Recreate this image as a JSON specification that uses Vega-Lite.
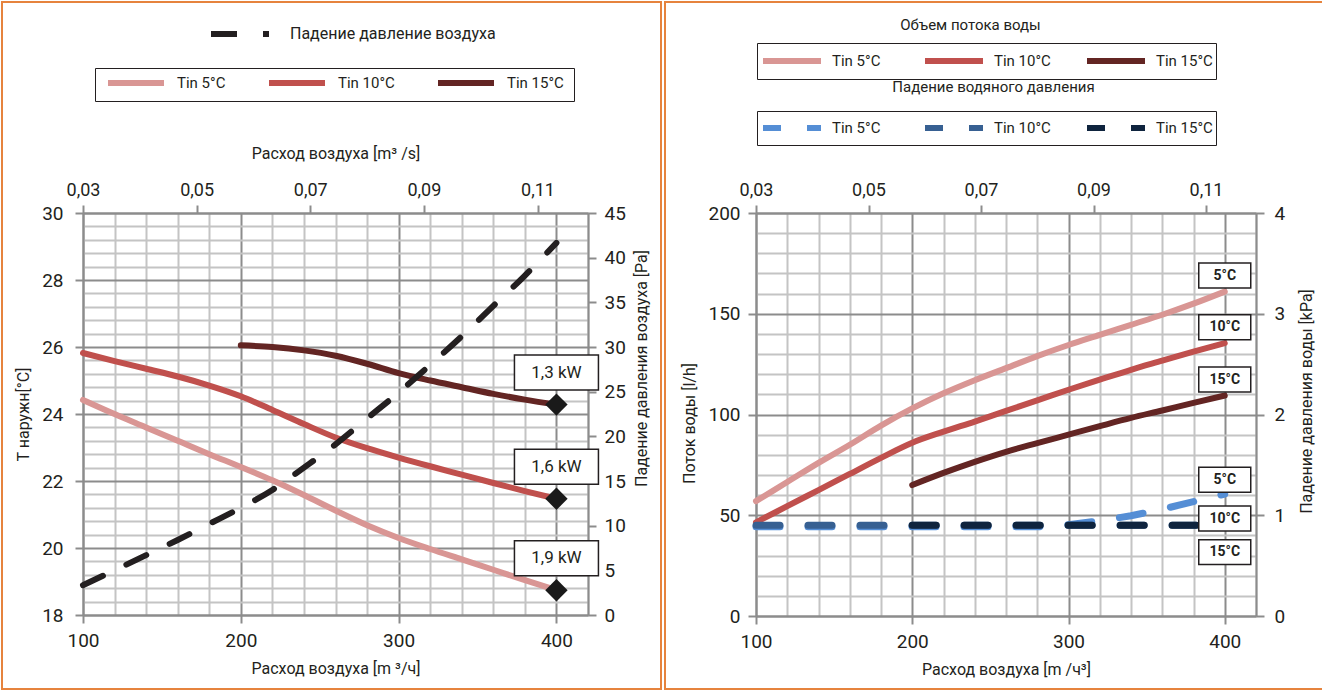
{
  "$schema": "https://vega.github.io/schema/vega-lite/v6.json",
  "padding": {"left": 1, "top": 1, "right": 0, "bottom": 0},
  "spacing": 2,
  "datasets": {
    "tair": [
      {"q": 100, "s": "Tin 5°C", "t": 24.42}, {"q": 120, "s": "Tin 5°C", "t": 24.0}, {"q": 140, "s": "Tin 5°C", "t": 23.6}, {"q": 160, "s": "Tin 5°C", "t": 23.2},
      {"q": 180, "s": "Tin 5°C", "t": 22.8}, {"q": 200, "s": "Tin 5°C", "t": 22.42}, {"q": 220, "s": "Tin 5°C", "t": 22.02}, {"q": 240, "s": "Tin 5°C", "t": 21.58},
      {"q": 260, "s": "Tin 5°C", "t": 21.12}, {"q": 280, "s": "Tin 5°C", "t": 20.68}, {"q": 300, "s": "Tin 5°C", "t": 20.3}, {"q": 320, "s": "Tin 5°C", "t": 19.97},
      {"q": 340, "s": "Tin 5°C", "t": 19.66}, {"q": 360, "s": "Tin 5°C", "t": 19.35}, {"q": 380, "s": "Tin 5°C", "t": 19.04}, {"q": 400, "s": "Tin 5°C", "t": 18.74},
      {"q": 100, "s": "Tin 10°C", "t": 25.82}, {"q": 120, "s": "Tin 10°C", "t": 25.58}, {"q": 140, "s": "Tin 10°C", "t": 25.35}, {"q": 160, "s": "Tin 10°C", "t": 25.12},
      {"q": 180, "s": "Tin 10°C", "t": 24.85}, {"q": 200, "s": "Tin 10°C", "t": 24.53}, {"q": 220, "s": "Tin 10°C", "t": 24.12}, {"q": 240, "s": "Tin 10°C", "t": 23.7},
      {"q": 260, "s": "Tin 10°C", "t": 23.3}, {"q": 280, "s": "Tin 10°C", "t": 22.98}, {"q": 300, "s": "Tin 10°C", "t": 22.7}, {"q": 320, "s": "Tin 10°C", "t": 22.44},
      {"q": 340, "s": "Tin 10°C", "t": 22.19}, {"q": 360, "s": "Tin 10°C", "t": 21.94}, {"q": 380, "s": "Tin 10°C", "t": 21.7}, {"q": 400, "s": "Tin 10°C", "t": 21.47},
      {"q": 200, "s": "Tin 15°C", "t": 26.05}, {"q": 220, "s": "Tin 15°C", "t": 26.0}, {"q": 240, "s": "Tin 15°C", "t": 25.9}, {"q": 260, "s": "Tin 15°C", "t": 25.74},
      {"q": 280, "s": "Tin 15°C", "t": 25.5}, {"q": 300, "s": "Tin 15°C", "t": 25.22}, {"q": 320, "s": "Tin 15°C", "t": 25.0}, {"q": 340, "s": "Tin 15°C", "t": 24.8},
      {"q": 360, "s": "Tin 15°C", "t": 24.6}, {"q": 380, "s": "Tin 15°C", "t": 24.43}, {"q": 400, "s": "Tin 15°C", "t": 24.28}
    ],
    "pair": [
      {"q": 100, "s": "Падение давление воздуха", "p": 3.34}, {"q": 120, "s": "Падение давление воздуха", "p": 5.0}, {"q": 140, "s": "Падение давление воздуха", "p": 6.7},
      {"q": 160, "s": "Падение давление воздуха", "p": 8.4}, {"q": 180, "s": "Падение давление воздуха", "p": 10.2}, {"q": 200, "s": "Падение давление воздуха", "p": 12.0},
      {"q": 220, "s": "Падение давление воздуха", "p": 14.0}, {"q": 240, "s": "Падение давление воздуха", "p": 16.5}, {"q": 260, "s": "Падение давление воздуха", "p": 19.1},
      {"q": 280, "s": "Падение давление воздуха", "p": 22.0}, {"q": 300, "s": "Падение давление воздуха", "p": 24.9}, {"q": 320, "s": "Падение давление воздуха", "p": 28.0},
      {"q": 340, "s": "Падение давление воздуха", "p": 31.2}, {"q": 360, "s": "Падение давление воздуха", "p": 34.6}, {"q": 380, "s": "Падение давление воздуха", "p": 38.0},
      {"q": 400, "s": "Падение давление воздуха", "p": 41.66}
    ],
    "tlab": [
      {"q": 400, "t": 24.28, "label": "1,3 kW"},
      {"q": 400, "t": 21.47, "label": "1,6 kW"},
      {"q": 400, "t": 18.74, "label": "1,9 kW"}
    ],
    "flow": [
      {"q": 100, "s": "Tin 5°C", "v": 57}, {"q": 120, "s": "Tin 5°C", "v": 66.5}, {"q": 140, "s": "Tin 5°C", "v": 76}, {"q": 160, "s": "Tin 5°C", "v": 85},
      {"q": 180, "s": "Tin 5°C", "v": 94.5}, {"q": 200, "s": "Tin 5°C", "v": 103}, {"q": 220, "s": "Tin 5°C", "v": 110.5}, {"q": 240, "s": "Tin 5°C", "v": 117},
      {"q": 260, "s": "Tin 5°C", "v": 123}, {"q": 280, "s": "Tin 5°C", "v": 129}, {"q": 300, "s": "Tin 5°C", "v": 134.5}, {"q": 320, "s": "Tin 5°C", "v": 139.5},
      {"q": 340, "s": "Tin 5°C", "v": 144.5}, {"q": 360, "s": "Tin 5°C", "v": 149.5}, {"q": 380, "s": "Tin 5°C", "v": 155}, {"q": 400, "s": "Tin 5°C", "v": 161},
      {"q": 100, "s": "Tin 10°C", "v": 46.5}, {"q": 120, "s": "Tin 10°C", "v": 54.5}, {"q": 140, "s": "Tin 10°C", "v": 62.5}, {"q": 160, "s": "Tin 10°C", "v": 70.5},
      {"q": 180, "s": "Tin 10°C", "v": 78.5}, {"q": 200, "s": "Tin 10°C", "v": 86}, {"q": 220, "s": "Tin 10°C", "v": 91.5}, {"q": 240, "s": "Tin 10°C", "v": 96.5},
      {"q": 260, "s": "Tin 10°C", "v": 101.8}, {"q": 280, "s": "Tin 10°C", "v": 107}, {"q": 300, "s": "Tin 10°C", "v": 112.3}, {"q": 320, "s": "Tin 10°C", "v": 117.3},
      {"q": 340, "s": "Tin 10°C", "v": 122.2}, {"q": 360, "s": "Tin 10°C", "v": 126.7}, {"q": 380, "s": "Tin 10°C", "v": 131.2}, {"q": 400, "s": "Tin 10°C", "v": 135.4},
      {"q": 200, "s": "Tin 15°C", "v": 65}, {"q": 220, "s": "Tin 15°C", "v": 71}, {"q": 240, "s": "Tin 15°C", "v": 76.5}, {"q": 260, "s": "Tin 15°C", "v": 81.5},
      {"q": 280, "s": "Tin 15°C", "v": 85.8}, {"q": 300, "s": "Tin 15°C", "v": 90}, {"q": 320, "s": "Tin 15°C", "v": 94.2}, {"q": 340, "s": "Tin 15°C", "v": 98.3},
      {"q": 360, "s": "Tin 15°C", "v": 102}, {"q": 380, "s": "Tin 15°C", "v": 105.8}, {"q": 400, "s": "Tin 15°C", "v": 109.4}
    ],
    "wp": [
      {"q": 100, "s": "Tin 5°C", "k": 0.885}, {"q": 200, "s": "Tin 5°C", "k": 0.885}, {"q": 280, "s": "Tin 5°C", "k": 0.885}, {"q": 300, "s": "Tin 5°C", "k": 0.905},
      {"q": 320, "s": "Tin 5°C", "k": 0.945}, {"q": 340, "s": "Tin 5°C", "k": 0.995}, {"q": 360, "s": "Tin 5°C", "k": 1.06}, {"q": 380, "s": "Tin 5°C", "k": 1.135}, {"q": 400, "s": "Tin 5°C", "k": 1.21},
      {"q": 100, "s": "Tin 10°C", "k": 0.9}, {"q": 200, "s": "Tin 10°C", "k": 0.9}, {"q": 300, "s": "Tin 10°C", "k": 0.9}, {"q": 400, "s": "Tin 10°C", "k": 0.9},
      {"q": 200, "s": "Tin 15°C", "k": 0.9}, {"q": 300, "s": "Tin 15°C", "k": 0.9}, {"q": 400, "s": "Tin 15°C", "k": 0.9}
    ],
    "flab": [
      {"q": 400, "v": 161, "label": "5°C"},
      {"q": 400, "v": 135.4, "label": "10°C"},
      {"q": 400, "v": 109.4, "label": "15°C"}
    ],
    "wlab": [
      {"q": 400, "k": 1.353, "label": "5°C"},
      {"q": 400, "k": 0.967, "label": "10°C"},
      {"q": 400, "k": 0.634, "label": "15°C"}
    ]
  },
  "hconcat": [
    {
      "width": 659,
      "height": 687,
      "resolve": {
        "scale": {"y": "independent", "color": "independent"},
        "axis": {"x": "independent", "y": "independent"},
        "legend": {"color": "independent"}
      },
      "layer": [
        {
          "resolve": {"axis": {"x": "independent", "y": "independent"}},
          "layer": [
            {
              "data": {"name": "tair"},
              "mark": {"type": "line", "strokeWidth": 6, "strokeCap": "round", "interpolate": "monotone"},
              "encoding": {
                "x": {"field": "q", "type": "quantitative", "scale": {"domain": [100, 420], "range": [81, 586], "nice": false, "zero": false},
                  "axis": {"orient": "top", "offset": -211, "values": [120, 140, 160, 180, 220, 240, 260, 280, 320, 340, 360, 380, 420], "grid": true, "gridColor": "#c4c4c4", "gridWidth": 2, "domain": false, "ticks": false, "labels": false, "title": null}},
                "y": {"field": "t", "type": "quantitative", "scale": {"domain": [18, 30], "range": [613, 211], "nice": false, "zero": false},
                  "axis": {"orient": "left", "offset": -81, "values": [18.4, 18.8, 19.2, 19.6, 20.4, 20.8, 21.2, 21.6, 22.4, 22.8, 23.2, 23.6, 24.4, 24.8, 25.2, 25.6, 26.4, 26.8, 27.2, 27.6, 28.4, 28.8, 29.2, 29.6], "grid": true, "gridColor": "#c4c4c4", "gridWidth": 2, "domain": false, "ticks": false, "labels": false, "title": null}},
                "color": {"field": "s", "type": "nominal",
                  "scale": {"domain": ["Tin 5°C", "Tin 10°C", "Tin 15°C"], "range": ["#d99694", "#c0504d", "#632523"]},
                  "legend": {"orient": "none", "legendX": 93, "legendY": 66, "direction": "horizontal", "title": null, "symbolType": "stroke", "symbolSize": 3136, "symbolStrokeWidth": 6, "clipHeight": 10, "padding": 10, "strokeColor": "#231f20", "labelFontSize": 15, "labelOffset": 10, "columnPadding": 40, "labelColor": "#231f20"}}
              }
            },
            {
              "data": {"name": "tlab"},
              "mark": {"type": "point", "shape": "diamond", "filled": true, "size": 500, "color": "#1a1a1a", "opacity": 1},
              "encoding": {
                "x": {"field": "q", "type": "quantitative", "scale": {"domain": [100, 420], "range": [81, 586], "nice": false, "zero": false},
                  "axis": {"orient": "top", "offset": -211, "values": [100, 200, 300, 400], "grid": true, "gridColor": "#8c8c8c", "gridWidth": 2, "domain": false, "ticks": false, "labels": false, "title": null}},
                "y": {"field": "t", "type": "quantitative", "scale": {"domain": [18, 30], "range": [613, 211], "nice": false, "zero": false},
                  "axis": {"orient": "left", "offset": -81, "values": [18, 20, 22, 24, 26, 28, 30], "grid": true, "gridColor": "#8c8c8c", "gridWidth": 2, "tickSize": 8, "labelPadding": 12, "title": "T наружн[°C]", "titlePadding": 10}}
              }
            },
            {
              "data": {"name": "tlab"},
              "mark": {"type": "point", "shape": "M-1.2,-0.5H1.2V0.5H-1.2Z", "size": 4900, "filled": true, "fill": "#ffffff", "stroke": "#231f20", "strokeWidth": 1.5, "opacity": 1, "yOffset": -32},
              "encoding": {
                "x": {"field": "q", "type": "quantitative", "scale": {"domain": [100, 420], "range": [81, 586], "nice": false, "zero": false},
                  "axis": {"orient": "bottom", "offset": -74, "values": [100, 200, 300, 400], "grid": false, "tickSize": 8, "labelPadding": 8, "labelFlush": false, "title": "Расход воздуха [m ³/ч]", "titlePadding": 10}},
                "y": {"field": "t", "type": "quantitative", "scale": {"domain": [18, 30], "range": [613, 211], "nice": false, "zero": false}, "axis": null}
              }
            },
            {
              "data": {"name": "tlab"},
              "mark": {"type": "text", "yOffset": -32, "fontSize": 17, "color": "#231f20", "align": "center", "baseline": "middle"},
              "encoding": {
                "x": {"field": "q", "type": "quantitative", "scale": {"domain": [100, 420], "range": [81, 586], "nice": false, "zero": false}, "axis": null},
                "y": {"field": "t", "type": "quantitative", "scale": {"domain": [18, 30], "range": [613, 211], "nice": false, "zero": false}, "axis": null},
                "text": {"field": "label"}
              }
            }
          ]
        },
        {
          "data": {"name": "pair"},
          "mark": {"type": "line", "strokeWidth": 6, "strokeCap": "round", "strokeDash": [22, 26], "interpolate": "monotone"},
          "encoding": {
            "x": {"field": "q", "type": "quantitative", "scale": {"domain": [100, 420], "range": [81, 586], "nice": false, "zero": false},
              "axis": {"orient": "top", "offset": -211, "values": [100, 172, 244, 316, 388], "labelExpr": "replace(format(0.03 + (datum.value - 100) / 3600, '.2f'), '.', ',')", "grid": false, "tickSize": 8, "labelPadding": 6, "labelFontSize": 18, "labelFlush": false, "title": "Расход воздуха [m³ /s]", "titlePadding": 20}},
            "y": {"field": "p", "type": "quantitative", "scale": {"domain": [0, 45], "range": [613, 211], "nice": false, "zero": false},
              "axis": {"orient": "right", "offset": -73, "values": [0, 5, 10, 15, 20, 25, 30, 35, 40, 45], "grid": false, "tickSize": 8, "labelPadding": 8, "labelFlush": false, "title": "Падение давления воздуха [Pa]", "titleAngle": 270, "titleBaseline": "top", "titleY": 366, "titlePadding": 8}},
            "color": {"field": "s", "type": "nominal",
              "scale": {"domain": ["Падение давление воздуха"], "range": ["#231f20"]},
              "legend": {"orient": "none", "legendX": 206, "legendY": 24, "title": null, "symbolType": "stroke", "symbolSize": 3364, "symbolStrokeWidth": 6, "symbolDash": [26, 26], "clipHeight": 16, "padding": 0, "labelFontSize": 16, "labelOffset": 18, "labelLimit": 400, "labelColor": "#231f20"}}
          }
        }
      ]
    },
    {
      "width": 658,
      "height": 687,
      "resolve": {
        "scale": {"y": "independent", "color": "independent"},
        "axis": {"x": "independent", "y": "independent"},
        "legend": {"color": "independent"}
      },
      "layer": [
        {
          "resolve": {"axis": {"x": "independent", "y": "independent"}},
          "layer": [
            {
              "data": {"name": "flow"},
              "mark": {"type": "line", "strokeWidth": 6, "strokeCap": "round", "interpolate": "monotone"},
              "encoding": {
                "x": {"field": "q", "type": "quantitative", "scale": {"domain": [100, 420], "range": [91, 591], "nice": false, "zero": false},
                  "axis": {"orient": "top", "offset": -211, "values": [120, 140, 160, 180, 220, 240, 260, 280, 320, 340, 360, 380, 420], "grid": true, "gridColor": "#c4c4c4", "gridWidth": 2, "domain": false, "ticks": false, "labels": false, "title": null}},
                "y": {"field": "v", "type": "quantitative", "scale": {"domain": [0, 200], "range": [614, 211], "nice": false, "zero": false},
                  "axis": {"orient": "left", "offset": -91, "values": [10, 20, 30, 40, 60, 70, 80, 90, 110, 120, 130, 140, 160, 170, 180, 190], "grid": true, "gridColor": "#c4c4c4", "gridWidth": 2, "domain": false, "ticks": false, "labels": false, "title": null}},
                "color": {"field": "s", "type": "nominal",
                  "scale": {"domain": ["Tin 5°C", "Tin 10°C", "Tin 15°C"], "range": ["#d99694", "#c0504d", "#632523"]},
                  "legend": {"orient": "none", "legendX": 92, "legendY": 41, "direction": "horizontal", "gridAlign": "all", "title": null, "symbolType": "stroke", "symbolSize": 3364, "symbolStrokeWidth": 6, "clipHeight": 30, "padding": 3, "strokeColor": "#231f20", "labelFontSize": 15, "labelOffset": 8, "columnPadding": 33, "labelColor": "#231f20"}}
              }
            },
            {
              "data": {"name": "flab"},
              "mark": {"type": "point", "shape": "M-1,-0.48H1V0.48H-1Z", "size": 2704, "filled": true, "fill": "#ffffff", "stroke": "#231f20", "strokeWidth": 1.5, "opacity": 1, "yOffset": -16},
              "encoding": {
                "x": {"field": "q", "type": "quantitative", "scale": {"domain": [100, 420], "range": [91, 591], "nice": false, "zero": false},
                  "axis": {"orient": "top", "offset": -211, "values": [100, 200, 300, 400], "grid": true, "gridColor": "#8c8c8c", "gridWidth": 2, "domain": false, "ticks": false, "labels": false, "title": null}},
                "y": {"field": "v", "type": "quantitative", "scale": {"domain": [0, 200], "range": [614, 211], "nice": false, "zero": false},
                  "axis": {"orient": "left", "offset": -91, "values": [0, 50, 100, 150, 200], "grid": true, "gridColor": "#8c8c8c", "gridWidth": 2, "tickSize": 8, "labelPadding": 8, "title": "Поток воды  [l/h]", "titleY": 421, "titlePadding": 10}}
              }
            },
            {
              "data": {"name": "flab"},
              "mark": {"type": "text", "yOffset": -16, "fontSize": 14, "fontWeight": "bold", "color": "#231f20", "align": "center", "baseline": "middle"},
              "encoding": {
                "x": {"field": "q", "type": "quantitative", "scale": {"domain": [100, 420], "range": [91, 591], "nice": false, "zero": false},
                  "axis": {"orient": "bottom", "offset": -73, "values": [100, 200, 300, 400], "grid": false, "tickSize": 8, "labelPadding": 8, "labelFlush": false, "title": "Расход воздуха [m /ч³]", "titlePadding": 10}},
                "y": {"field": "v", "type": "quantitative", "scale": {"domain": [0, 200], "range": [614, 211], "nice": false, "zero": false}, "axis": null},
                "text": {"field": "label"}
              }
            }
          ]
        },
        {
          "resolve": {"axis": {"x": "independent", "y": "independent"}},
          "layer": [
            {
              "data": {"name": "wp"},
              "mark": {"type": "line", "strokeWidth": 7, "strokeCap": "round", "strokeDash": [24, 28]},
              "encoding": {
                "x": {"field": "q", "type": "quantitative", "scale": {"domain": [100, 420], "range": [91, 591], "nice": false, "zero": false},
                  "axis": {"orient": "top", "offset": -211, "values": [100, 172, 244, 316, 388], "labelExpr": "replace(format(0.03 + (datum.value - 100) / 3600, '.2f'), '.', ',')", "grid": false, "tickSize": 8, "labelPadding": 6, "labelFontSize": 18, "labelFlush": false, "title": null}},
                "y": {"field": "k", "type": "quantitative", "scale": {"domain": [0, 4], "range": [614, 211], "nice": false, "zero": false},
                  "axis": {"orient": "right", "offset": -67, "values": [0, 1, 2, 3, 4], "grid": false, "tickSize": 8, "labelPadding": 10, "labelFlush": false, "title": "Падение давления воды  [kPa]", "titleAngle": 270, "titleBaseline": "top", "titleY": 399, "titlePadding": 14}},
                "color": {"field": "s", "type": "nominal",
                  "scale": {"domain": ["Tin 5°C", "Tin 10°C", "Tin 15°C"], "range": ["#558ed5", "#376092", "#0f243e"]},
                  "legend": {"orient": "none", "legendX": 92, "legendY": 109, "direction": "horizontal", "gridAlign": "all", "title": null, "symbolType": "stroke", "symbolSize": 3364, "symbolStrokeWidth": 6, "symbolDash": [18, 26], "clipHeight": 28, "padding": 3, "strokeColor": "#231f20", "labelFontSize": 15, "labelOffset": 8, "columnPadding": 33, "labelColor": "#231f20"}}
              }
            },
            {
              "data": {"name": "wlab"},
              "mark": {"type": "point", "shape": "M-1,-0.48H1V0.48H-1Z", "size": 2704, "filled": true, "fill": "#ffffff", "stroke": "#231f20", "strokeWidth": 1.5, "opacity": 1},
              "encoding": {
                "x": {"field": "q", "type": "quantitative", "scale": {"domain": [100, 420], "range": [91, 591], "nice": false, "zero": false},
                  "axis": {"orient": "top", "offset": 0, "domain": false, "ticks": false, "labels": false, "grid": false, "title": "Объем потока воды", "titleX": 305, "titleY": 22, "titleAlign": "center", "titleBaseline": "middle", "titleFontSize": 15}},
                "y": {"field": "k", "type": "quantitative", "scale": {"domain": [0, 4], "range": [614, 211], "nice": false, "zero": false}, "axis": null}
              }
            },
            {
              "data": {"name": "wlab"},
              "mark": {"type": "text", "fontSize": 14, "fontWeight": "bold", "color": "#231f20", "align": "center", "baseline": "middle"},
              "encoding": {
                "x": {"field": "q", "type": "quantitative", "scale": {"domain": [100, 420], "range": [91, 591], "nice": false, "zero": false},
                  "axis": {"orient": "top", "offset": 0, "domain": false, "ticks": false, "labels": false, "grid": false, "title": "Падение водяного давления", "titleX": 328, "titleY": 84, "titleAlign": "center", "titleBaseline": "middle", "titleFontSize": 15}},
                "y": {"field": "k", "type": "quantitative", "scale": {"domain": [0, 4], "range": [614, 211], "nice": false, "zero": false}, "axis": null},
                "text": {"field": "label"}
              }
            }
          ]
        }
      ]
    }
  ],
  "config": {
    "font": "Roboto",
    "view": {"stroke": "#e6833d", "strokeWidth": 2},
    "axis": {
      "labelColor": "#231f20", "titleColor": "#231f20", "titleFontWeight": "normal",
      "domainColor": "#8c8c8c", "tickColor": "#8c8c8c", "domainWidth": 2, "tickWidth": 2,
      "labelFontSize": 19, "titleFontSize": 16, "labelFlush": false
    },
    "legend": {"labelColor": "#231f20", "labelFontSize": 15}
  }
}
